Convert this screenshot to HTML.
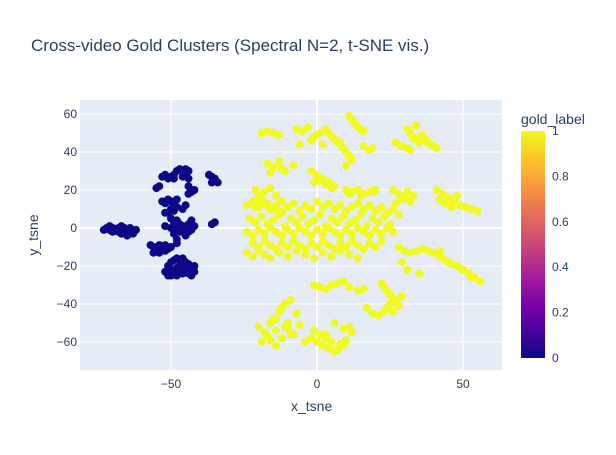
<!DOCTYPE html>
<html><head><meta charset="utf-8">
<style>
body{margin:0;background:#fff;font-family:"Liberation Sans",sans-serif;}
svg text{font-family:"Liberation Sans",sans-serif;fill:#2a3f5f;}
</style></head>
<body>
<svg width="616" height="450" id="chart">
<defs><linearGradient id="plasma" x1="0" y1="1" x2="0" y2="0">
<stop offset="0" stop-color="#0d0887"/><stop offset="0.111" stop-color="#46039f"/><stop offset="0.222" stop-color="#7201a8"/><stop offset="0.333" stop-color="#9c179e"/><stop offset="0.444" stop-color="#bd3786"/><stop offset="0.556" stop-color="#d8576b"/><stop offset="0.667" stop-color="#ed7953"/><stop offset="0.778" stop-color="#fb9f3a"/><stop offset="0.889" stop-color="#fdca26"/><stop offset="1" stop-color="#f0f921"/></linearGradient></defs>
<text x="31" y="51" font-size="17">Cross-video Gold Clusters (Spectral N=2, t-SNE vis.)</text>
<rect x="80" y="100" width="422" height="270" fill="#e5ecf6"/>
<g id="grid"></g><g id="pts"></g><g id="ticks"></g>
<text x="291" y="411" font-size="14">x_tsne</text>
<text transform="translate(38,235) rotate(-90)" text-anchor="middle" font-size="14">y_tsne</text>
<text x="521" y="124" font-size="14">gold_label</text>
<rect x="521" y="131" width="24" height="227" fill="url(#plasma)"/>
<g id="cbticks"></g>
</svg>
<script>
const xTicks=[-50,0,50];
const yTicks=[-60,-40,-20,0,20,40,60];
const cbTicks=[0,0.2,0.4,0.6,0.8,1];
const darkX=[-73,-72,-71,-70,-69,-68,-67,-66,-65,-64,-63,-65,-70,-68,-66,-62,-67,-71,-64,
-55,-54,-53,-52,-51,-50,-49,-48,-47,-46,-45,-44,-45,-44,-44,-43,-42,-44,-46,-49,
-53,-52,-51,-50,-49,-48,-50,-51,-49,-48,-46,-45,-52,-50,-48,-47,-46,-45,-44,-43,-42,-43,-49,-50,-48,-47,-46,-49,-48,-45,-44,-52,
-57,-56,-55,-54,-53,-52,-51,-50,-56,-54,-52,-48,
-51,-50,-49,-48,-47,-46,-45,-44,-43,-42,-52,-51,-50,-49,-48,-47,-46,-45,-44,-43,-47,-45,-50,-42,-48,
-37,-36,-35,-36,-34,-36,-35];
const darkY=[-1,0,-1,0,-1,0,1,0,-1,-2,-3,-4,-2,-2,-2,-1,-3,1,0,
21,22,27,28,26,27,26,30,31,30,31,30,28,26,22,19,20,18,27,28,
14,13,15,14,13,15,10,8,9,11,10,12,8,5,4,2,1,0,2,-1,1,4,2,0,0,-2,-1,-3,-6,-4,-2,1,
-9,-10,-11,-9,-10,-9,-11,-10,-13,-13,-12,-8,
-20,-18,-17,-16,-17,-16,-18,-19,-21,-23,-23,-25,-22,-24,-21,-23,-24,-22,-24,-25,-20,-20,-25,-20,-25,
28,27,26,24,24,2,3];
const yelX=[-19,-17,-15,-13,
-7,-5,-3,-1,1,3,5,7,-6,-2,2,6,0,4,
11,12,13,14,15,16,8,9,10,11,12,10,
16,18,19,27,29,31,32,31,32,33,34,35,33,35,36,37,38,39,40,41,
-17,-15,-13,-11,-16,-12,-8,-2,0,2,4,6,-1,1,3,5,0,
10,12,14,16,18,20,11,15,19,26,28,30,32,29,31,33,27,
41,43,45,47,49,51,53,55,44,46,48,42,
-21,-20,-19,-17,-15,-13,-12,-20,-18,-16,-14,-21,-17,
-24,-22,-20,-18,-16,-14,-12,-10,-8,-6,-4,-2,0,2,4,6,8,10,12,14,16,18,20,22,24,26,28,
-23,-21,-19,-17,-15,-13,-11,-9,-7,-5,-3,-1,1,3,5,7,9,11,13,15,17,19,21,23,25,
-24,-22,-20,-18,-16,-14,-12,-10,-8,-6,-4,-2,0,2,4,6,8,10,12,14,16,18,20,22,24,26,
-22,-20,-18,-16,-14,-12,-10,-8,-6,-4,-2,0,2,4,6,8,10,12,14,16,18,20,22,
-24,-22,-20,-18,-16,-13,-10,-7,-4,-1,2,5,8,11,14,
28,30,32,34,36,38,40,42,29,31,35,
42,44,46,48,50,52,54,56,45,49,53,
-1,1,3,5,7,9,11,14,16,22,23,24,25,26,27,28,24,26,17,19,21,23,25,27,29,
-20,-18,-16,-14,-12,-10,-8,-6,-4,-19,-17,-15,-13,-11,-9,-7,-18,-16,-14,-12,-10,-14,-12,-11,-9,
-2,0,2,4,6,8,10,12,-1,1,3,5,7,9,11,3,6,9];
const yelY=[50,51,50,49,
52,51,53,48,50,52,48,45,44,46,44,47,49,50,
59,57,55,53,52,51,45,42,40,38,36,33,
43,41,42,45,43,42,41,52,50,48,54,46,47,45,49,47,45,44,43,42,
34,32,35,30,29,31,33,30,28,26,24,22,24,25,23,21,27,
20,19,20,18,19,20,18,17,19,20,18,16,14,15,19,17,13,
20,18,16,14,12,11,10,9,13,11,17,15,
20,17,15,12,10,9,8,14,19,21,17,11,13,
12,14,11,13,10,12,14,11,13,9,12,10,14,11,13,10,12,9,11,13,10,12,9,11,8,10,7,
5,3,6,2,4,7,1,5,3,6,2,4,7,1,5,3,6,2,4,7,1,5,3,6,2,
-2,-4,-1,-3,0,-2,-4,-1,-3,0,-2,-4,-1,-3,0,-2,-4,-1,-3,0,-2,-4,-1,-3,0,-2,
-8,-10,-7,-9,-11,-8,-10,-7,-9,-11,-8,-10,-7,-9,-11,-8,-10,-7,-9,-11,-8,-10,-7,
-13,-15,-12,-14,-16,-13,-15,-12,-14,-16,-13,-15,-12,-14,-16,
-10,-12,-13,-12,-11,-12,-13,-12,-18,-22,-24,
-15,-17,-19,-20,-22,-24,-26,-28,-18,-21,-26,
-30,-31,-32,-30,-29,-28,-31,-33,-32,-29,-31,-33,-35,-37,-39,-41,-42,-44,-42,-45,-46,-44,-40,-38,-36,
-52,-55,-50,-54,-58,-53,-56,-51,-60,-60,-57,-48,-44,-40,-38,-45,-55,-59,-62,-58,-50,-48,-42,-52,-56,
-58,-60,-62,-63,-65,-61,-59,-55,-54,-56,-58,-60,-64,-62,-52,-56,-50,-53];
const NS='http://www.w3.org/2000/svg';
const xs=v=>317+v*2.92, ys=v=>228-v*1.9;
function mk(t,a,p){const e=document.createElementNS(NS,t);for(const k in a)e.setAttribute(k,a[k]);p.appendChild(e);return e;}
const grid=document.getElementById('grid'),tk=document.getElementById('ticks'),pts=document.getElementById('pts'),cb=document.getElementById('cbticks');
xTicks.forEach(v=>{const l=mk('line',{x1:xs(v),x2:xs(v),y1:100,y2:370,stroke:'#fff','stroke-width':v===0?2:1},grid);


const t=mk('text',{x:xs(v),y:388,'text-anchor':'middle','font-size':12},tk);t.textContent=v<0?'−'+(-v):v;

});
yTicks.forEach(v=>{const l=mk('line',{x1:80,x2:502,y1:ys(v),y2:ys(v),stroke:'#fff','stroke-width':v===0?2:1},grid);


const t=mk('text',{x:77,y:ys(v)+4,'text-anchor':'end','font-size':12},tk);t.textContent=v<0?'−'+(-v):v;

});
darkX.forEach((x,i)=>{const c=mk('circle',{cx:xs(x),cy:ys(darkY[i]),r:4,fill:'#0d0887'},pts);

});
yelX.forEach((x,i)=>{const c=mk('circle',{cx:xs(x),cy:ys(yelY[i]),r:4,fill:'#f0f921'},pts);

});
cbTicks.forEach(v=>{const t=mk('text',{x:552,y:358-v*227+4,'font-size':12},cb);t.textContent=v;

});
</script>
</body></html>
